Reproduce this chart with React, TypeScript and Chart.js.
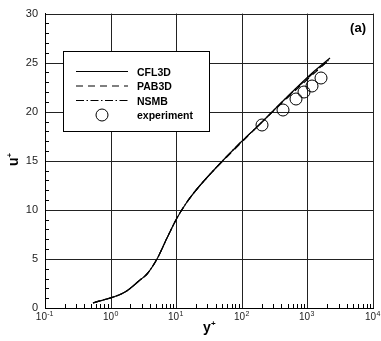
import React, { useEffect, useRef } from "react";
import { Chart, registerables } from "chart.js";
Chart.register(...registerables);

// ---- data ----
const cfl3dYPlus = [0.53, 1.63, 2.82, 3.57, 5.07, 7.2, 10.2, 14.6, 20.7, 37, 95, 191, 434, 1112, 2244];
const cfl3dUPlus = [0.52, 1.63, 2.88, 3.46, 5.0, 7.1, 9.15, 10.8, 12.1, 14.0, 16.8, 18.8, 21.2, 23.7, 25.5];

const pab3dYPlus = [0.53, 1.63, 2.82, 3.57, 5.07, 7.2, 10.2, 14.6, 20.7, 37, 95, 191, 434, 1112, 2150];
const pab3dUPlus = [0.52, 1.63, 2.88, 3.46, 5.0, 7.1, 9.15, 10.8, 12.1, 14.0, 16.75, 18.7, 21.05, 23.5, 25.25];

const nsmbYPlus = [0.53, 1.63, 2.82, 3.57, 5.07, 7.2, 10.2, 14.6, 20.7, 37, 95, 191, 434, 1112, 2200];
const nsmbUPlus = [0.52, 1.63, 2.88, 3.46, 5.0, 7.1, 9.15, 10.8, 12.1, 14.0, 16.8, 18.8, 21.15, 23.6, 25.4];

const expYPlus = [200, 420, 670, 900, 1180, 1600];
const expUPlus = [18.6, 20.2, 21.25, 22.0, 22.6, 23.4];

const xTickValues = [0.1, 1, 10, 100, 1000, 10000];
const xTickExponents = ["-1", "0", "1", "2", "3", "4"];
const yTickValues = [0, 5, 10, 15, 20, 25, 30];

const seriesLabels = ["CFL3D", "PAB3D", "NSMB", "experiment"];

const FONT = "'Liberation Sans', Arial, Helvetica, sans-serif";

const toPoints = (xs: number[], ys: number[]) => xs.map((x, i) => ({ x, y: ys[i] }));

export default function App() {
  const ref = useRef<HTMLCanvasElement>(null);

  useEffect(() => {
    document.body.style.margin = "0";
    const canvas = ref.current!;

    const overlay = {
      id: "overlay",
      afterDatasetsDraw(chart: any) {
        const ctx = chart.ctx as CanvasRenderingContext2D;
        const xs = chart.scales.x;
        const ys = chart.scales.y;
        const area = chart.chartArea;
        ctx.save();

        // minor ticks on x (inside, from bottom)
        ctx.strokeStyle = "#000";
        ctx.lineWidth = 1;
        ctx.beginPath();
        for (let k = -1; k <= 3; k++) {
          for (let d = 2; d <= 9; d++) {
            const px = Math.round(xs.getPixelForValue(d * Math.pow(10, k))) + 0.5;
            ctx.moveTo(px, area.bottom);
            ctx.lineTo(px, area.bottom - 4);
          }
        }
        // minor ticks on y (inside, from left)
        for (let v = 1; v < 30; v++) {
          if (v % 5 === 0) continue;
          const py = Math.round(ys.getPixelForValue(v)) + 0.5;
          ctx.moveTo(area.left, py);
          ctx.lineTo(area.left + 4, py);
        }
        ctx.stroke();

        // x tick labels with superscript exponents
        ctx.fillStyle = "#222";
        ctx.textBaseline = "alphabetic";
        ctx.textAlign = "left";
        xTickValues.forEach((v, i) => {
          const px = xs.getPixelForValue(v);
          ctx.font = `10px ${FONT}`;
          const w1 = ctx.measureText("10").width;
          ctx.font = `7px ${FONT}`;
          const w2 = ctx.measureText(xTickExponents[i]).width;
          const start = px - (w1 + w2) / 2 - 0.5;
          ctx.font = `10px ${FONT}`;
          ctx.fillText("10", start, 320);
          ctx.font = `7px ${FONT}`;
          ctx.fillText(xTickExponents[i], start + w1 + 0.3, 315.5);
        });

        // axis titles
        ctx.fillStyle = "#000";
        ctx.font = `bold 14px ${FONT}`;
        const yw = ctx.measureText("y").width;
        const yStart = 209 - (yw + 4) / 2;
        ctx.fillText("y", yStart, 332);
        ctx.font = `bold 8px ${FONT}`;
        ctx.fillText("+", yStart + yw, 326);

        ctx.save();
        ctx.translate(18, 166);
        ctx.rotate(-Math.PI / 2);
        ctx.font = `bold 14px ${FONT}`;
        const uw = ctx.measureText("u").width;
        ctx.fillText("u", 0, 0);
        ctx.font = `bold 8px ${FONT}`;
        ctx.fillText("+", uw, -6);
        ctx.restore();

        // panel label
        ctx.font = `bold 13px ${FONT}`;
        ctx.textAlign = "right";
        ctx.fillText("(a)", 366, 32);

        // legend box
        const bx = 63.5, by = 51.5, bw = 146, bh = 80;
        ctx.fillStyle = "#fff";
        ctx.fillRect(bx, by, bw, bh);
        ctx.strokeStyle = "#000";
        ctx.lineWidth = 1;
        ctx.setLineDash([]);
        ctx.strokeRect(bx, by, bw, bh);

        const rows = [71.5, 86, 100.5, 115];
        const datasets = chart.data.datasets;
        ctx.textAlign = "left";
        ctx.font = `bold 10.5px ${FONT}`;
        datasets.forEach((ds: any, i: number) => {
          const ry = rows[i];
          ctx.strokeStyle = "#000";
          if (ds.showLine) {
            ctx.lineWidth = ds.borderWidth;
            ctx.setLineDash(ds.borderDash || []);
            ctx.beginPath();
            ctx.moveTo(76, ry);
            ctx.lineTo(128, ry);
            ctx.stroke();
            ctx.setLineDash([]);
          } else {
            ctx.lineWidth = 1;
            ctx.beginPath();
            ctx.arc(102, ry, 6, 0, Math.PI * 2);
            ctx.stroke();
          }
          ctx.fillStyle = "#000";
          ctx.fillText(ds.label, 137, ry + 4);
        });

        ctx.restore();
      },
    };

    const lineDs = (label: string, xs: number[], ys: number[], dash: number[]) => ({
      label,
      data: toPoints(xs, ys),
      showLine: true,
      borderColor: "#000",
      borderWidth: 1.2,
      borderDash: dash,
      pointRadius: 0,
      pointHoverRadius: 0,
      fill: false,
      cubicInterpolationMode: "monotone",
    });

    const chart = new Chart(canvas, {
      type: "scatter",
      data: {
        datasets: [
          lineDs(seriesLabels[0], cfl3dYPlus, cfl3dUPlus, []),
          lineDs(seriesLabels[1], pab3dYPlus, pab3dUPlus, [7, 5]),
          lineDs(seriesLabels[2], nsmbYPlus, nsmbUPlus, [8, 2.5, 1.5, 2.5]),
          {
            label: seriesLabels[3],
            data: toPoints(expYPlus, expUPlus),
            showLine: false,
            pointRadius: 6,
            pointHoverRadius: 6,
            pointStyle: "circle",
            borderColor: "#000",
            borderWidth: 1,
            backgroundColor: "rgba(0,0,0,0)",
          },
        ] as any,
      },
      options: {
        responsive: false,
        animation: false,
        devicePixelRatio: 1,
        layout: { padding: { left: 0, right: 8, top: 13, bottom: 0 } },
        plugins: {
          legend: { display: false },
          tooltip: { enabled: false },
          title: { display: false },
        },
        events: [],
        scales: {
          x: {
            type: "logarithmic",
            min: 0.1,
            max: 10000,
            alignToPixels: true,
            afterBuildTicks: (s: any) => {
              s.ticks = xTickValues.map((v) => ({ value: v, major: true }));
            },
            afterFit: (s: any) => {
              s.height = 33;
            },
            ticks: { display: false },
            grid: { color: "#222", lineWidth: 1, drawTicks: false },
            border: { display: true, color: "#000", width: 1 },
          },
          y: {
            type: "linear",
            min: 0,
            max: 30,
            alignToPixels: true,
            afterBuildTicks: (s: any) => {
              s.ticks = yTickValues.map((v) => ({ value: v }));
            },
            afterFit: (s: any) => {
              s.width = 45;
            },
            ticks: {
              padding: 7,
              color: "#222",
              font: { family: FONT, size: 11 },
              callback: (v: any) => String(v),
            },
            grid: { color: "#222", lineWidth: 1, drawTicks: false },
            border: { display: true, color: "#000", width: 1 },
          },
        },
      } as any,
      plugins: [overlay],
    });

    return () => chart.destroy();
  }, []);

  return (
    <div style={{ width: 381, height: 341 }}>
      <canvas ref={ref} width={381} height={341} style={{ display: "block" }} />
    </div>
  );
}
